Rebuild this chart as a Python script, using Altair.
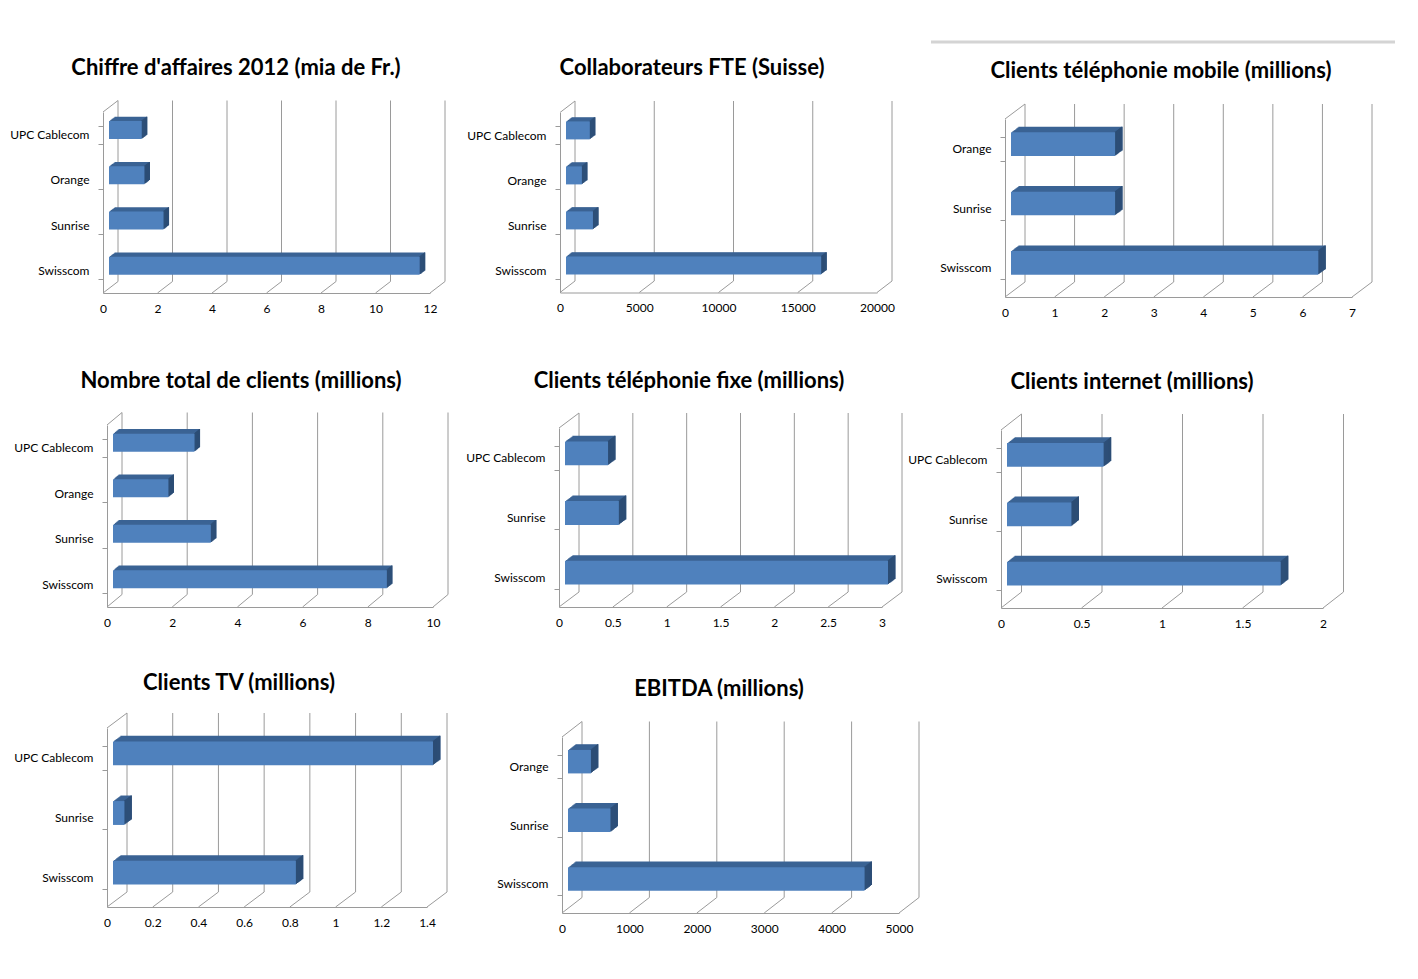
import altair as alt
import pandas as pd

FONT = "Lato"
FRONT = "#4F81BD"
TOP = "#3B6394"
SIDE = "#2C4D75"
GRID = "#9a9a9a"

# ---------------- data ----------------
titles = [
    "Chiffre d'affaires 2012 (mia de Fr.)",
    "Collaborateurs FTE (Suisse)",
    "Clients téléphonie mobile (millions)",
    "Nombre total de clients (millions)",
    "Clients téléphonie fixe (millions)",
    "Clients internet (millions)",
    "Clients TV (millions)",
    "EBITDA (millions)",
]

cats_4 = ["UPC Cablecom", "Orange", "Sunrise", "Swisscom"]
cats_osw = ["Orange", "Sunrise", "Swisscom"]
cats_usw = ["UPC Cablecom", "Sunrise", "Swisscom"]

vals_ca = [1.2, 1.3, 2.0, 11.4]
vals_fte = [1500, 1000, 1700, 16100]
vals_mobile = [2.1, 2.1, 6.2]
vals_total = [2.5, 1.7, 3.0, 8.4]
vals_fixe = [0.4, 0.5, 3.0]
vals_internet = [0.6, 0.4, 1.7]
vals_tv = [1.4, 0.05, 0.8]
vals_ebitda = [340, 630, 4400]

ticks_ca = [0, 2, 4, 6, 8, 10, 12]
ticks_fte = [0, 5000, 10000, 15000, 20000]
ticks_mobile = [0, 1, 2, 3, 4, 5, 6, 7]
ticks_total = [0, 2, 4, 6, 8, 10]
ticks_fixe = [0, 0.5, 1, 1.5, 2, 2.5, 3]
ticks_internet = [0, 0.5, 1, 1.5, 2]
ticks_tv = [0, 0.2, 0.4, 0.6, 0.8, 1, 1.2, 1.4]
ticks_ebitda = [0, 1000, 2000, 3000, 4000, 5000]

# ---------------- layout (page-like design coordinates) ----------------
col_x = [100, 545, 990]
col_w = [445, 445, 410]
row_y = [100, 410, 715]
row_h = [310, 305, 230]
TITLE_FIX = 29
BORDER_Y = 42  # faint chart-area border above the third panel

# plot geometry: x0, x1, yTop, yBottom, depth dx, depth dy, title center x, title center y
geo = [
    (103, 430, 112, 293, 15, -11.5, 236, 67),
    (560, 877, 112.5, 292.5, 15, -11.5, 692, 67),
    (1005, 1352, 119, 297, 20, -15, 1161, 70),
    (107, 433, 425, 607, 15, -12.5, 241, 380),
    (559, 882, 428, 607, 20, -15, 689, 380),
    (1001, 1323, 430, 608, 20.5, -16, 1132, 381),
    (107, 427, 728, 907, 20, -15, 239, 680),
    (562, 899, 737, 913, 20, -15.5, 719, 688),
]

panels_data = [
    (cats_4, vals_ca, ticks_ca),
    (cats_4, vals_fte, ticks_fte),
    (cats_osw, vals_mobile, ticks_mobile),
    (cats_4, vals_total, ticks_total),
    (cats_usw, vals_fixe, ticks_fixe),
    (cats_usw, vals_internet, ticks_internet),
    (cats_usw, vals_tv, ticks_tv),
    (cats_osw, vals_ebitda, ticks_ebitda),
]


def panel(i):
    cats, vals, ticks = panels_data[i]
    x0, x1, yT, yB, ddx, ddy, tcx, tcy = geo[i]
    r, c = divmod(i, 3)
    cx, cy, cw, ch = col_x[c], row_y[r], col_w[c], row_h[r]
    rx0, rx1 = x0 - cx, x1 - cx
    ry0, ry1 = yT - cy, yB - cy

    df = pd.DataFrame({"cat": cats, "val": vals})
    dt = pd.DataFrame({"v": ticks})

    xs = alt.Scale(domain=[ticks[0], ticks[-1]], range=[rx0, rx1], nice=False, zero=True)
    ys = alt.Scale(domain=cats, range=[ry0, ry1], paddingInner=0.6, paddingOuter=0.3)

    xa = alt.Axis(values=ticks, labelExpr="'' + datum.value", grid=False, ticks=False,
                  domain=True, domainColor=GRID, labelFont=FONT, labelFontSize=12,
                  labelColor="black", labelPadding=10, title=None, offset=-(ch - ry1),
                  labelFlush=False, labelOverlap=False)
    ya = alt.Axis(grid=False, ticks=True, tickBand="extent", tickSize=5, tickColor=GRID,
                  domain=True, domainColor=GRID, labelFont=FONT, labelFontSize=12,
                  labelColor="black", labelPadding=9, title=None, offset=-rx0)

    X = lambda f: alt.X(f, scale=xs, axis=xa)
    Y = alt.Y("cat:N", scale=ys, axis=ya, sort=cats)

    layers = []
    # top of this panel's content bounds (the group frame itself counts)
    bounds_top = min(cy, cy + ry0 + ddy)
    if i == 2:
        layers.append(
            alt.Chart(dt.iloc[:1]).mark_rule(color="#d4d4d4", strokeWidth=3)
            .encode(x=alt.value(931 - cx), x2=alt.value(1395 - cx),
                    y=alt.value(BORDER_Y - cy))
        )
        bounds_top = BORDER_Y + 4.5
    layers.append(
        alt.Chart(dt).mark_rule(color=GRID, strokeWidth=1, xOffset=ddx, yOffset=ddy, y2Offset=ddy)
        .encode(x=X("v:Q"), y=alt.value(ry0), y2=alt.value(ry1))
    )
    layers.append(
        alt.Chart(dt).mark_rule(color=GRID, strokeWidth=1, x2Offset=ddx, y2Offset=ddy)
        .encode(x=X("v:Q"), x2="v:Q", y=alt.value(ry1), y2=alt.value(ry1))
    )
    layers.append(
        alt.Chart(dt.iloc[:1]).mark_rule(color=GRID, strokeWidth=1, x2Offset=ddx, y2Offset=ddy)
        .encode(x=X("v:Q"), x2="v:Q", y=alt.value(ry0), y2=alt.value(ry0))
    )

    fx = 6.0
    fy = ddy * fx / ddx
    n = max(1, round(0.37 * ddx))
    ux, uy = 0.37 * ddx / n, 0.37 * ddy / n
    for k in range(n, 0, -1):
        ox, oy = fx + k * ux, fy + k * uy
        layers.append(
            alt.Chart(df).mark_bar(color=TOP, xOffset=ox, x2Offset=ox, yOffset=oy, y2Offset=oy)
            .encode(x=X("val:Q"), y=Y)
        )
    for k in range(1, n + 1):
        oy = fy + k * uy
        layers.append(
            alt.Chart(df).mark_bar(color=SIDE, xOffset=fx + (k - 1) * ux - 0.3,
                                   x2Offset=fx + k * ux, yOffset=oy, y2Offset=oy)
            .encode(x=X("val:Q"), x2="val:Q", y=Y)
        )
    layers.append(
        alt.Chart(df).mark_bar(color=FRONT, xOffset=fx, x2Offset=fx, yOffset=fy, y2Offset=fy)
        .encode(x=X("val:Q"), y=Y)
    )

    title = alt.TitleParams(
        text=titles[i], font=FONT, fontSize=22, fontWeight="bold", color="black",
        anchor="middle", frame="group", baseline="alphabetic",
        dx=tcx - (cx + cw / 2), offset=bounds_top - (tcy + 7) - TITLE_FIX,
    )
    return alt.layer(*layers).properties(width=cw, height=ch, title=title)


chart = alt.concat(*[panel(i) for i in range(8)], columns=3, spacing=0, bounds="flush").properties(
    padding={"left": 9, "top": 40, "right": 5, "bottom": 5},
    background="white",
).configure_view(stroke=None)

chart.save("out.html", embed_options={"renderer": "svg", "actions": False})
